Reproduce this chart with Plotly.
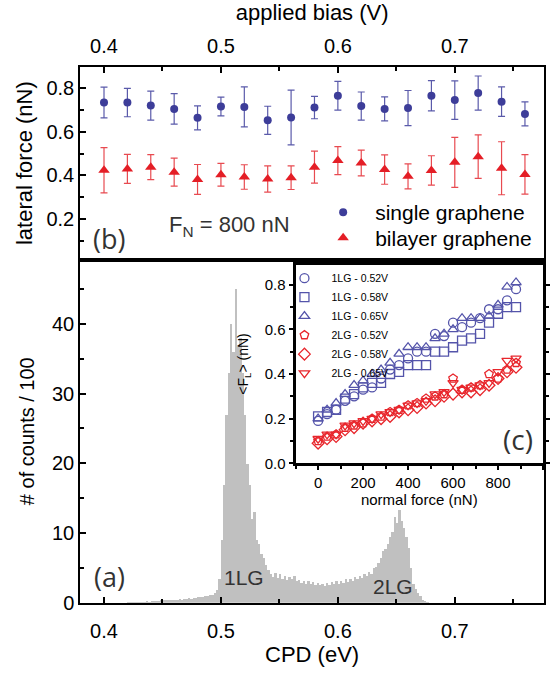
import numpy as np
import plotly.graph_objects as go

# ---------------- panel (b): lateral force vs applied bias ----------------
bias = [0.40, 0.42, 0.44, 0.46, 0.48, 0.50, 0.52, 0.54, 0.56, 0.58,
        0.60, 0.62, 0.64, 0.66, 0.68, 0.70, 0.72, 0.74, 0.76]
single_f = [0.733, 0.733, 0.719, 0.704, 0.663, 0.715, 0.713, 0.652, 0.665, 0.710,
            0.764, 0.717, 0.704, 0.708, 0.764, 0.744, 0.776, 0.737, 0.681]
single_err = [0.070, 0.065, 0.066, 0.070, 0.055, 0.043, 0.091, 0.064, 0.125, 0.051,
              0.066, 0.064, 0.055, 0.080, 0.069, 0.088, 0.078, 0.067, 0.055]
bilayer_f = [0.424, 0.430, 0.438, 0.415, 0.382, 0.403, 0.393, 0.384, 0.390, 0.438,
             0.468, 0.457, 0.427, 0.396, 0.423, 0.460, 0.486, 0.433, 0.405]
bilayer_err = [0.103, 0.066, 0.057, 0.064, 0.068, 0.052, 0.056, 0.060, 0.054, 0.073,
               0.064, 0.059, 0.067, 0.057, 0.067, 0.114, 0.099, 0.121, 0.090]

# ---------------- panel (a): CPD histogram (counts / 100) ----------------
cpd_start, cpd_bin = 0.420, 0.002
counts = [0.05, 0.1, 0.1, 0.1, 0.2, 0.2, 0.2, 0.2, 0.3, 0.2, 0.3, 0.3, 0.3, 0.3, 0.4,
          0.4, 0.4, 0.5, 0.4, 0.5, 0.5, 0.5, 0.6, 0.5, 0.6, 0.6, 0.7, 0.6, 0.7, 0.7,
          0.8, 0.8, 0.9, 1.0, 1.0, 1.1, 1.2, 1.4, 1.8, 3.5,
          9, 17, 27, 33, 40, 36, 45, 37, 38, 33,
          27, 20, 17, 12, 13, 9, 8.5, 7, 6.5, 5.5,
          4.8, 4.2, 3.8, 4.3, 3.6, 4.1, 3.5, 3.9, 3.3, 3.7,
          3.4, 3.9, 3.1, 3.3, 2.9, 3.2, 2.8, 3.1, 2.7, 3.0,
          2.6, 2.9, 2.6, 2.8, 2.5, 2.9, 2.6, 3.0, 2.7, 3.1,
          2.8, 3.2, 2.9, 3.4, 3.0, 3.5, 3.2, 3.7, 3.4, 3.9,
          3.6, 4.2, 3.9, 4.5, 4.2, 5.0, 5.2, 5.8, 6.5, 7.5,
          7.7, 8.5, 9.5, 10.2, 12.4, 11.5, 13.3, 11.8, 10.7, 9.5,
          7.9, 5.0, 2.8, 2.0, 1.4, 1.0, 0.5, 0.3, 0.1, 0.0]
cpd_centers = cpd_start + cpd_bin * (np.arange(len(counts)) + 0.5)

# ---------------- inset (c): <F_L> vs normal force ----------------
normal_force = [0, 40, 80, 120, 160, 200, 240, 280, 320, 360, 400, 440,
                480, 520, 560, 600, 640, 680, 720, 760, 800, 840, 880]
lg1_052 = [0.19, 0.22, 0.24, 0.28, 0.30, 0.33, 0.34, 0.38, 0.42, 0.44, 0.47, 0.50,
           0.50, 0.58, 0.57, 0.63, 0.61, 0.63, 0.65, 0.69, 0.69, 0.73, 0.78]
lg1_058 = [0.21, 0.23, 0.24, 0.29, 0.31, 0.34, 0.36, 0.36, 0.40, 0.41, 0.44, 0.44,
           0.44, 0.50, 0.50, 0.52, 0.55, 0.56, 0.58, 0.63, 0.67, 0.70, 0.70]
lg1_065 = [0.20, 0.24, 0.27, 0.31, 0.35, 0.37, 0.40, 0.42, 0.45, 0.49, 0.52, 0.52,
           0.52, 0.56, 0.58, 0.60, 0.65, 0.65, 0.65, 0.66, 0.71, 0.79, 0.81]
lg2_052 = [0.10, 0.12, 0.13, 0.16, 0.17, 0.18, 0.20, 0.21, 0.23, 0.24, 0.26, 0.27,
           0.29, 0.30, 0.31, 0.38, 0.33, 0.34, 0.35, 0.40, 0.38, 0.42, 0.45]
lg2_058 = [0.09, 0.11, 0.12, 0.15, 0.16, 0.18, 0.19, 0.20, 0.21, 0.23, 0.24, 0.25,
           0.27, 0.28, 0.30, 0.31, 0.32, 0.32, 0.33, 0.35, 0.38, 0.41, 0.43]
lg2_065 = [0.11, 0.13, 0.13, 0.17, 0.18, 0.19, 0.20, 0.22, 0.23, 0.24, 0.26, 0.27,
           0.28, 0.31, 0.32, 0.36, 0.33, 0.34, 0.35, 0.36, 0.41, 0.46, 0.47]

BLUE = "#3d3d99"
RED = "#e41e26"
IBLUE = "#5454aa"
IRED = "#e8262c"
GRAY = "#c0c0c0"
FONT = "Liberation Sans"
LFONT = "Open Sans"

W, H = 550, 675
def px(x):
    return x / W
def py(y):
    return 1 - y / H

fig = go.Figure()

# histogram
fig.add_trace(go.Bar(x=cpd_centers, y=counts, width=cpd_bin, marker=dict(color=GRAY, line=dict(width=0)),
                     xaxis="x", yaxis="y", showlegend=False))

# panel b
fig.add_trace(go.Scatter(x=bias, y=single_f, mode="markers", name="single graphene",
                         marker=dict(symbol="circle", size=8, color=BLUE),
                         error_y=dict(type="data", array=single_err, color="#5a5aaa", thickness=1.2, width=3.5),
                         xaxis="x2", yaxis="y2", legend="legend"))
fig.add_trace(go.Scatter(x=bias, y=bilayer_f, mode="markers", name="bilayer graphene",
                         marker=dict(symbol="triangle-up", size=10, color=RED),
                         error_y=dict(type="data", array=bilayer_err, color="#e84a50", thickness=1.2, width=3.5),
                         xaxis="x2", yaxis="y2", legend="legend3"))

# inset
inset_series = [
    ("1LG - 0.52V", lg1_052, "circle-open", IBLUE),
    ("1LG - 0.58V", lg1_058, "square-open", IBLUE),
    ("1LG - 0.65V", lg1_065, "triangle-up-open", IBLUE),
    ("2LG - 0.52V", lg2_052, "pentagon-open", IRED),
    ("2LG - 0.58V", lg2_058, "diamond-open", IRED),
    ("2LG - 0.65V", lg2_065, "triangle-down-open", IRED),
]
for name, vals, sym, col in inset_series:
    fig.add_trace(go.Scatter(x=normal_force, y=vals, mode="markers", name=name,
                             marker=dict(symbol=sym, size=9, color=col, line=dict(color=col, width=1.3)),
                             xaxis="x3", yaxis="y3", legend="legend2"))

xdom = [px(81), px(549)]
xr = [0.3797, 0.7763]
axis_common = dict(showline=True, linecolor="black", linewidth=2, showgrid=False, zeroline=False,
                   tickfont=dict(family=FONT, size=20, color="black"), ticks="inside",
                   ticklen=6, tickwidth=1.5, tickcolor="black")

legend_common = dict(xanchor="left", yanchor="middle", bgcolor="rgba(0,0,0,0)",
                     font=dict(family=FONT, size=21, color="black"), tracegroupgap=0,
                     itemsizing="trace", itemwidth=54)

fig.update_layout(
    width=W, height=H, margin=dict(l=0, r=0, t=0, b=0),
    paper_bgcolor="white", plot_bgcolor="rgba(0,0,0,0)",
    bargap=0,
    xaxis=dict(domain=xdom, range=xr, anchor="y", tick0=0.4, dtick=0.1, mirror=True, ticklabelstandoff=9,
               minor=dict(dtick=0.05, ticks="inside", ticklen=4, tickcolor="black"),
               title=dict(text="CPD (eV)", font=dict(family=FONT, size=22, color="black"), standoff=4),
               **axis_common),
    yaxis=dict(domain=[py(612.7), py(264)], range=[0, 49.2], anchor="x", tick0=0, dtick=10, mirror=True,
               minor=dict(dtick=5, ticks="inside", ticklen=4, tickcolor="black"),
               title=dict(text="# of counts / 100", font=dict(family=FONT, size=20, color="black"), standoff=12),
               **axis_common),
    xaxis2=dict(domain=xdom, range=xr, anchor="y2", side="top", tick0=0.4, dtick=0.1, mirror=True, ticklabelstandoff=4,
                minor=dict(dtick=0.05, ticks="inside", ticklen=4, tickcolor="black"),
                title=dict(text="applied bias (V)", font=dict(family=FONT, size=22, color="black"), standoff=8),
                **axis_common),
    yaxis2=dict(domain=[py(264), py(67.7)], range=[0.0155, 0.897], anchor="x2", tick0=0, dtick=0.2, mirror=True,
                minor=dict(dtick=0.1, ticks="inside", ticklen=4, tickcolor="black"),
                title=dict(text="lateral force (nN)", font=dict(family=FONT, size=22, color="black"), standoff=8),
                **axis_common),
    xaxis3=dict(domain=[px(298.3), px(548)], range=[-100, 1000], anchor="y3", tick0=0, dtick=200,
                showline=True, linecolor="black", linewidth=3, mirror="ticks", showgrid=False, zeroline=False,
                ticks="outside", ticklen=4, tickwidth=1.5, tickcolor="black",
                minor=dict(dtick=100, ticks="outside", ticklen=3, tickcolor="black"),
                tickfont=dict(family=FONT, size=15, color="black"),
                title=dict(text="normal force (nN)", font=dict(family=FONT, size=15, color="black"), standoff=2)),
    yaxis3=dict(domain=[py(471), py(269)], range=[0, 0.89], anchor="x3", tick0=0, dtick=0.2, tickformat=".1f",
                showline=True, linecolor="black", linewidth=3, mirror="ticks", showgrid=False, zeroline=False,
                ticks="outside", ticklen=4, tickwidth=1.5, tickcolor="black",
                minor=dict(dtick=0.1, ticks="outside", ticklen=3, tickcolor="black"),
                tickfont=dict(family=FONT, size=15, color="black"),
                title=dict(text="&lt;F<sub>L</sub>&gt; (nN)", font=dict(family=FONT, size=14, color="black"), standoff=13)),
    legend=dict(x=px(314), y=py(216), **legend_common),
    legend3=dict(x=px(314), y=py(242), **legend_common),
    legend2=dict(x=px(280), y=py(268), xanchor="left", yanchor="top", bgcolor="rgba(0,0,0,0)",
                 font=dict(family=FONT, size=10.5, color="black"), tracegroupgap=0, itemsizing="trace",
                 itemwidth=44),
)

annotations = [
    dict(text="(b)", x=px(92), y=py(242), xanchor="left", yanchor="middle",
         font=dict(family=LFONT, size=27, color="#333333")),
    dict(text="F<sub>N</sub> = 800 nN", x=px(169), y=py(230), xanchor="left", yanchor="middle",
         font=dict(family=FONT, size=22, color="#333333")),
    dict(text="(a)", x=px(93), y=py(586), xanchor="left", yanchor="middle",
         font=dict(family=LFONT, size=27, color="#333333")),
    dict(text="1LG", x=px(224), y=py(587), xanchor="left", yanchor="middle",
         font=dict(family=FONT, size=21, color="#333333")),
    dict(text="2LG", x=px(374), y=py(596), xanchor="left", yanchor="middle",
         font=dict(family=FONT, size=21, color="#333333")),
    dict(text="(c)", x=px(506), y=py(446), xanchor="left", yanchor="middle",
         font=dict(family=LFONT, size=28, color="#333333")),
]
for a in annotations:
    a.update(xref="paper", yref="paper", showarrow=False)
fig.update_layout(annotations=annotations)

fig.write_html("out.html")
